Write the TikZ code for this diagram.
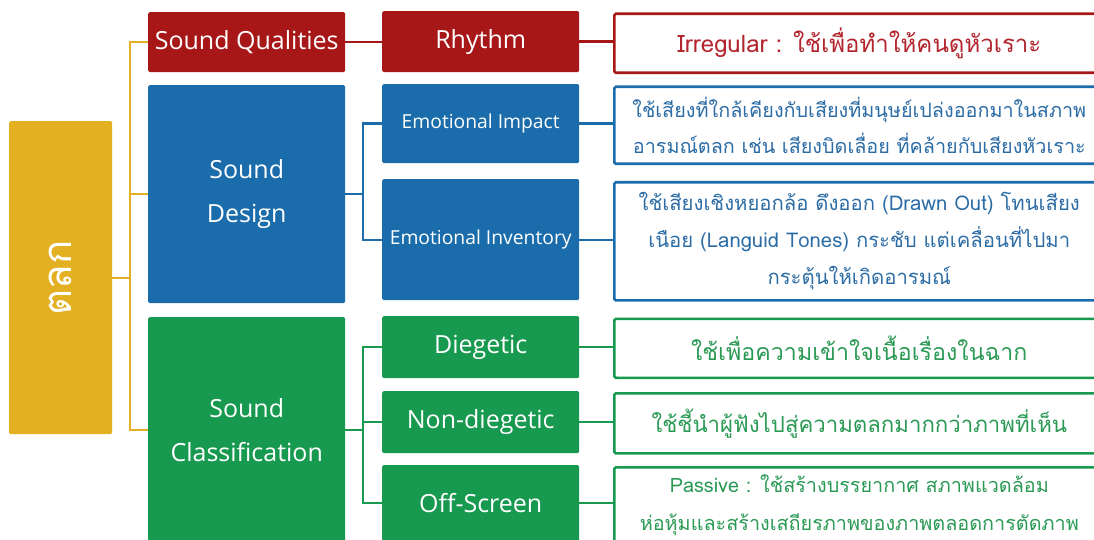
\documentclass[tikz,border=0pt]{standalone}
\usepackage{fontspec}
\setmainfont{Open Sans}
\newfontfamily\thai[Script=Thai]{Loma}
\definecolor{cred}{HTML}{A81717}
\definecolor{cblue}{HTML}{1A6CAB}
\definecolor{cgreen}{HTML}{17994F}
\definecolor{cyel}{HTML}{E3B022}
\definecolor{tred}{HTML}{B3262E}
\definecolor{tblue}{HTML}{2D6DA6}
\definecolor{tgreen}{HTML}{2A9A55}
\tikzset{
  fbox/.style={anchor=north west, inner sep=0pt, rounded corners=1.5pt, align=center, text=white, font=\fontsize{25}{44}\selectfont},
  obox/.style={anchor=north west, draw, line width=2.6pt, fill=white, inner sep=0pt, align=center, rounded corners=1.5pt},
  conn/.style={line width=2.4pt},
}
\begin{document}
\begin{tikzpicture}[x=1pt,y=-1pt]
\useasboundingbox (0,0) rectangle (1094,540);
\clip (0,0) rectangle (1094,540);
% root
\node[fbox, fill=cyel, minimum width=103pt, minimum height=313pt] (tl) at (9,121) {\rotatebox{90}{\thai\fontsize{40}{40}\selectfont ตลก}};
% level 1
\node[fbox, fill=cred, minimum width=197pt, minimum height=60pt] (sq) at (148,12) {Sound Qualities};
\node[fbox, fill=cblue, minimum width=197pt, minimum height=218pt] (sd) at (148,85) {Sound\\Design};
\node[fbox, fill=cgreen, minimum width=197pt, minimum height=226pt] (sc) at (148,317) {Sound\\Classification};
% level 2
\node[fbox, fill=cred, minimum width=197pt, minimum height=61pt] (rh) at (382,11) {Rhythm};
\node[fbox, fill=cblue, minimum width=197pt, minimum height=79pt, font=\fontsize{19.3}{22}\selectfont] (ei) at (382,84) {Emotional Impact};
\node[fbox, fill=cblue, minimum width=197pt, minimum height=121pt, font=\fontsize{19.3}{22}\selectfont] (einv) at (382,179) {Emotional Inventory};
\node[fbox, fill=cgreen, minimum width=197pt, minimum height=62pt] (dg) at (382,316) {Diegetic};
\node[fbox, fill=cgreen, minimum width=197pt, minimum height=62pt] (nd) at (382,391) {Non-diegetic};
\node[fbox, fill=cgreen, minimum width=197pt, minimum height=76pt] (os) at (382,465) {Off-Screen};
% level 3
\node[obox, draw=cred, text=tred, minimum width=490pt, minimum height=59pt, font=\thai\fontsize{24}{30}\selectfont] (irr) at (613,12.5) {Irregular : ใช้เพื่อทำให้คนดูหัวเราะ};
\node[obox, draw=cblue, text=tblue, minimum width=490pt, minimum height=77pt, font=\thai\fontsize{19.8}{36}\selectfont] (b1) at (613,85.5) {ใช้เสียงที่ใกล้เคียงกับเสียงที่มนุษย์เปล่งออกมาในสภาพ\\อารมณ์ตลก เช่น เสียงบิดเลื่อย ที่คล้ายกับเสียงหัวเราะ};
\node[obox, draw=cblue, text=tblue, minimum width=490pt, minimum height=118pt, font=\thai\fontsize{20.3}{37}\selectfont] (b2) at (613,181) {ใช้เสียงเชิงหยอกล้อ ดึงออก (Drawn Out) โทนเสียง\\เนือย (Languid Tones) กระชับ แต่เคลื่อนที่ไปมา\\กระตุ้นให้เกิดอารมณ์};
\node[obox, draw=cgreen, text=tgreen, minimum width=490pt, minimum height=59pt, font=\thai\fontsize{23.2}{30}\selectfont] (g1) at (613,317.5) {ใช้เพื่อความเข้าใจเนื้อเรื่องในฉาก};
\node[obox, draw=cgreen, text=tgreen, minimum width=490pt, minimum height=60pt, font=\thai\fontsize{22.2}{30}\selectfont] (g2) at (613,392) {ใช้ชี้นำผู้ฟังไปสู่ความตลกมากกว่าภาพที่เห็น};
\node[obox, draw=cgreen, text=tgreen, minimum width=490pt, minimum height=76pt, font=\thai\fontsize{19.8}{38}\selectfont] (g3) at (613,466) {Passive : ใช้สร้างบรรยากาศ สภาพแวดล้อม\\ห่อหุ้มและสร้างเสถียรภาพของภาพตลอดการตัดภาพ};
% connectors
\coordinate (yb) at (130,278);
\coordinate (bb) at (363,194);
\coordinate (gb) at (363,430);
\draw[conn, cyel] (sq.west) -| (yb) |- (sc.west);
\draw[conn, cyel] (tl.east) -- (tl.east -| yb);
\draw[conn, cyel] (yb |- sd.west) -- (sd.west);
\draw[conn, cred] (sq.east) -- (sq.east -| rh.west);
\draw[conn, cred] (rh.east) -- (rh.east -| irr.west);
\draw[conn, cblue] (ei.west) -| (bb) |- (einv.west);
\draw[conn, cblue] (sd.east) -- (sd.east -| bb);
\draw[conn, cblue] (ei.east) -- (ei.east -| b1.west);
\draw[conn, cblue] (einv.east) -- (einv.east -| b2.west);
\draw[conn, cgreen] (dg.west) -| (gb) |- (os.west);
\draw[conn, cgreen] (sc.east) -- (sc.east -| gb);
\draw[conn, cgreen] (gb |- nd.west) -- (nd.west);
\draw[conn, cgreen] (dg.east) -- (dg.east -| g1.west);
\draw[conn, cgreen] (nd.east) -- (nd.east -| g2.west);
\draw[conn, cgreen] (os.east) -- (os.east -| g3.west);
\end{tikzpicture}
\end{document}
